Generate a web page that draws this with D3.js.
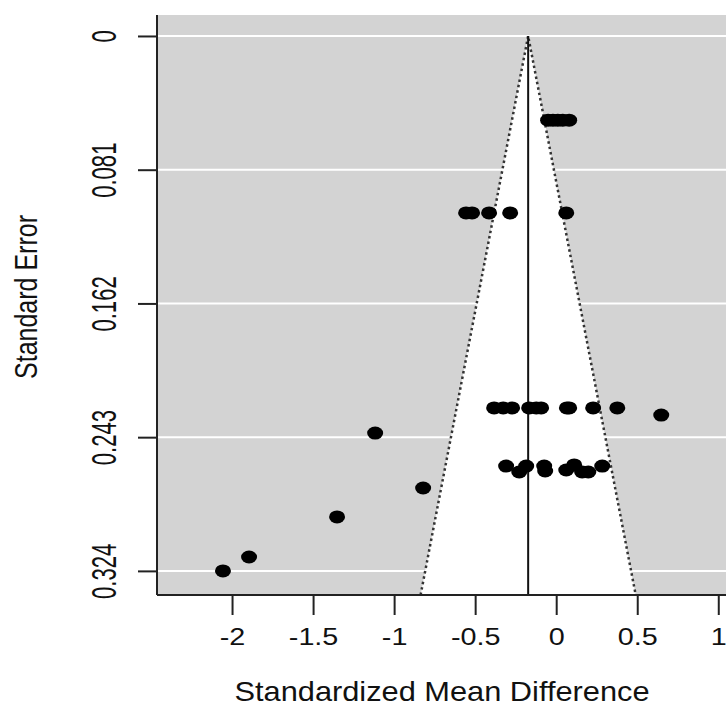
<!DOCTYPE html>
<html>
<head>
<meta charset="utf-8">
<script src="https://cdn.jsdelivr.net/npm/d3@7"></script>
<style>
  body { margin: 0; background: #fff; }
  text { font-family: "Liberation Sans", Arial, Helvetica, sans-serif; fill: #111; }
</style>
</head>
<body>
<div id="funnel"></div>
<script>

// Funnel plot: standardized mean difference vs standard error

const width = 726;
const height = 707;
const plot = {left: 157, right: 728, top: 15, bottom: 595};

// Study effect sizes (x) and standard errors (y)
const smd = [
  -0.05, -0.02, 0.01, 0.04, 0.08,
  -0.556, -0.519, -0.414, -0.284, 0.062,
  -0.383, -0.327, -0.272, -0.167, -0.123, -0.093, 0.066, 0.08, 0.228, 0.377, 0.648,
  -0.309, -0.228, -0.185, -0.074, -0.068, 0.062, 0.111, 0.16, 0.198, 0.284,
  -1.117, -0.821, -1.352, -1.895, -2.056
];
const se = [
  0.051, 0.051, 0.051, 0.051, 0.051,
  0.1072, 0.1072, 0.1072, 0.1072, 0.1072,
  0.2253, 0.2253, 0.2253, 0.2253, 0.2253, 0.2253, 0.2253, 0.2253, 0.2253, 0.2253, 0.2296,
  0.2605, 0.2641, 0.2605, 0.2605, 0.2635, 0.2629, 0.2598, 0.2641, 0.2641, 0.2605,
  0.2405, 0.2738, 0.2913, 0.3156, 0.324
];

// pooled estimate (vertical line)
const estimate = -0.173;

// axis ticks
const xTicks = [-2, -1.5, -1, -0.5, 0, 0.5, 1];
const xTickLabels = ["-2", "-1.5", "-1", "-0.5", "0", "0.5", "1"];
const yTicks = [0, 0.081, 0.162, 0.243, 0.324];
const yTickLabels = ["0", "0.081", "0.162", "0.243", "0.324"];

const xLim = [-2.463, 1.06];
const yLim = [-0.0127, 0.3386];

const svg = d3.select("#funnel")
  .append("svg")
  .attr("width", width)
  .attr("height", height);

const xScale = d3.scaleLinear().domain(xLim).range([plot.left, plot.right]);
const yScale = d3.scaleLinear().domain(yLim).range([plot.top, plot.bottom]);

// clip everything to the plotting region
svg.append("clipPath").attr("id", "clip")
  .append("rect")
  .attr("x", plot.left).attr("y", plot.top)
  .attr("width", plot.right - plot.left).attr("height", plot.bottom - plot.top);

const g = svg.append("g").attr("clip-path", "url(#clip)");

// grey background
g.append("rect")
  .attr("x", plot.left).attr("y", plot.top)
  .attr("width", plot.right - plot.left).attr("height", plot.bottom - plot.top)
  .attr("fill", "#d3d3d3");

// white horizontal grid lines at the y ticks
g.selectAll(".grid")
  .data(yTicks)
  .enter()
  .append("line")
    .attr("class", "grid")
    .attr("x1", plot.left).attr("x2", plot.right)
    .attr("y1", d => yScale(d)).attr("y2", d => yScale(d))
    .attr("stroke", "#fff")
    .attr("stroke-width", 2);

// funnel (95% pseudo confidence region)
const seMax = yLim[1];
const funnel = [
  [estimate - 1.96 * seMax, seMax],
  [estimate, 0],
  [estimate + 1.96 * seMax, seMax]
];
const line = d3.line().x(d => xScale(d[0])).y(d => yScale(d[1]));

g.append("path")
  .attr("d", line(funnel) + "Z")
  .attr("fill", "#fff");

g.append("path")
  .attr("d", line(funnel))
  .attr("fill", "none")
  .attr("stroke", "#333")
  .attr("stroke-width", 2.5)
  .attr("stroke-dasharray", "2.5,3");

// vertical line at the pooled estimate
g.append("line")
  .attr("x1", xScale(estimate)).attr("x2", xScale(estimate))
  .attr("y1", yScale(0)).attr("y2", yScale(seMax))
  .attr("stroke", "#111")
  .attr("stroke-width", 2);

// study points
g.selectAll(".pt")
  .data(smd)
  .enter()
  .append("ellipse")
    .attr("class", "pt")
    .attr("cx", d => xScale(d))
    .attr("cy", (d, i) => yScale(se[i]))
    .attr("rx", 8)
    .attr("ry", 6.5)
    .attr("fill", "#000");

// x axis
const xAxis = svg.append("g")
  .attr("transform", `translate(0,${plot.bottom})`)
  .call(d3.axisBottom(xScale)
    .tickValues(xTicks)
    .tickFormat((d, i) => xTickLabels[i])
    .tickSize(20)
    .tickSizeOuter(0)
    .tickPadding(14));
xAxis.select(".domain").remove();
xAxis.selectAll(".tick line").attr("stroke", "#222").attr("stroke-width", 2);
xAxis.selectAll(".tick text")
  .attr("font-size", 23)
  .attr("transform", "scale(1.25,1)");

// y axis
const yAxis = svg.append("g")
  .attr("transform", `translate(${plot.left},0)`)
  .call(d3.axisLeft(yScale)
    .tickValues(yTicks)
    .tickFormat((d, i) => yTickLabels[i])
    .tickSize(19)
    .tickSizeOuter(0));
yAxis.select(".domain").remove();
yAxis.selectAll(".tick line").attr("stroke", "#222").attr("stroke-width", 2);
yAxis.selectAll(".tick text")
  .attr("x", 0).attr("y", 0).attr("dy", 0)
  .attr("text-anchor", "middle")
  .attr("font-size", 24)
  .attr("transform", "translate(-41,0) scale(1.5,0.92) rotate(-90)");

// box lines (left and bottom)
svg.append("line")
  .attr("x1", plot.left).attr("x2", plot.left)
  .attr("y1", plot.top).attr("y2", plot.bottom)
  .attr("stroke", "#222").attr("stroke-width", 2);
svg.append("line")
  .attr("x1", plot.left).attr("x2", width)
  .attr("y1", plot.bottom).attr("y2", plot.bottom)
  .attr("stroke", "#222").attr("stroke-width", 2);

// axis titles
svg.append("text")
  .attr("text-anchor", "middle")
  .attr("font-size", 27)
  .attr("transform", "translate(442,701) scale(1.14,1)")
  .text("Standardized Mean Difference");

svg.append("text")
  .attr("text-anchor", "middle")
  .attr("font-size", 25)
  .attr("transform", "translate(37,297) scale(1.23,1) rotate(-90)")
  .text("Standard Error");

</script>
</body>
</html>
